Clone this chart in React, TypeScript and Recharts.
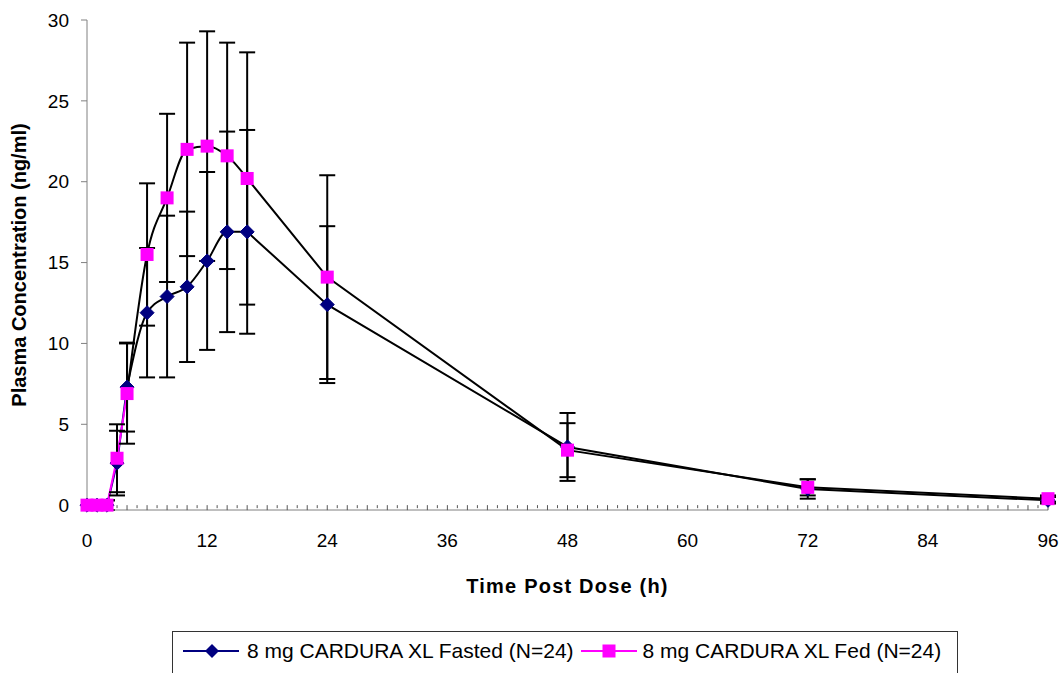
import React from 'react';
import { ComposedChart, Line, XAxis, YAxis, ErrorBar, Label } from 'recharts';

// sampling times (h)
const times = [0, 1, 2, 3, 4, 6, 8, 10, 12, 14, 16, 24, 48, 72, 96];

// mean plasma concentration (ng/ml)
const fastedMean = [0, 0, 0, 2.6, 7.3, 11.9, 12.9, 13.5, 15.1, 16.9, 16.9, 12.4, 3.6, 1.0, 0.3];
const fedMean = [0, 0, 0, 2.9, 6.9, 15.5, 19.0, 22.0, 22.2, 21.6, 20.2, 14.1, 3.4, 1.1, 0.4];

// standard deviation
const fastedSd = [0, 0, 0.3, 2.0, 2.75, 4.0, 5.0, 4.65, 5.5, 6.2, 6.3, 4.85, 2.1, 0.6, 0.2];
const fedSd = [0, 0, 0.3, 2.1, 3.1, 4.4, 5.2, 6.6, 7.1, 7.0, 7.8, 6.3, 1.67, 0.5, 0.2];

const yTicks = [0, 5, 10, 15, 20, 25, 30];
const xLabelTicks = [0, 12, 24, 36, 48, 60, 72, 84, 96];
const xMinorTicks = Array.from({ length: 97 }, (_, i) => i);

const FASTED_LABEL = '8 mg CARDURA XL Fasted (N=24)';
const FED_LABEL = '8 mg CARDURA XL Fed (N=24)';

const NAVY = '#000080';
const MAGENTA = '#FF00FF';
const FONT = '"Liberation Sans", Arial, sans-serif';

// smooth part of the curve up to 16 h, straight segments after
const data = times.map((t, i) => ({
  t,
  fasted: fastedMean[i],
  fed: fedMean[i],
  fastedSd: fastedSd[i],
  fedSd: fedSd[i],
  fastedEarly: t <= 4 ? fastedMean[i] : undefined,
  fedEarly: t <= 4 ? fedMean[i] : undefined,
  fastedPeak: t >= 4 && t <= 16 ? fastedMean[i] : undefined,
  fedPeak: t >= 4 && t <= 16 ? fedMean[i] : undefined,
  fastedTail: t >= 16 ? fastedMean[i] : undefined,
  fedTail: t >= 16 ? fedMean[i] : undefined,
}));

// hourly minor tick positions, sitting on y = 0
const tickData = xMinorTicks.map((h) => ({ t: h, base: 0 }));

const Diamond = (props: any) => {
  const { cx, cy } = props;
  if (cx == null || cy == null) return null;
  const r = 7;
  return (
    <path
      d={`M${cx},${cy - r}L${cx + r},${cy}L${cx},${cy + r}L${cx - r},${cy}Z`}
      fill={NAVY}
      stroke={NAVY}
      strokeWidth={1}
    />
  );
};

const Square = (props: any) => {
  const { cx, cy } = props;
  if (cx == null || cy == null) return null;
  const r = 6.5;
  return <rect x={cx - r} y={cy - r} width={r * 2} height={r * 2} fill={MAGENTA} />;
};

const MinorTick = (props: any) => {
  const { cx, cy, payload } = props;
  if (cx == null || cy == null) return null;
  const len = payload.t % 2 === 0 ? 5 : 3;
  return <line x1={cx} y1={cy} x2={cx} y2={cy + len} stroke="#555" strokeWidth={1} />;
};

export default function App() {
  return (
    <div style={{ position: 'absolute', left: 0, top: 0, width: 1063, height: 673, background: '#fff' }}>
      <ComposedChart
        width={1063}
        height={673}
        data={data}
        margin={{ top: 20, right: 15, left: 27, bottom: 73 }}
      >
        <XAxis
          dataKey="t"
          type="number"
          domain={[0, 96]}
          ticks={xLabelTicks}
          interval={0}
          tick={{ fill: '#000', fontSize: 19, fontFamily: FONT }}
          tickLine={false}
          tickSize={0}
          tickMargin={24}
          axisLine={{ stroke: '#808080' }}
          height={90}
        >
          <Label
            content={(p: any) => {
              const vb = p.viewBox;
              return (
                <text
                  x={vb.x + vb.width / 2}
                  y={vb.y + 83}
                  textAnchor="middle"
                  fontSize={20}
                  fontWeight="bold"
                  fontFamily={FONT}
                  letterSpacing={1.2}
                  fill="#000"
                >
                  Time Post Dose (h)
                </text>
              );
            }}
          />
        </XAxis>
        <YAxis
          type="number"
          domain={[0, 30]}
          ticks={yTicks}
          interval={0}
          width={60}
          tickSize={6}
          tickMargin={12}
          tickLine={{ stroke: '#808080' }}
          axisLine={{ stroke: '#808080' }}
          tick={{ fill: '#000', fontSize: 19, fontFamily: FONT }}
        >
          <Label
            content={(p: any) => {
              const vb = p.viewBox;
              const cy = vb.y + vb.height / 2;
              return (
                <text
                  x={19}
                  y={cy}
                  transform={`rotate(-90, 19, ${cy})`}
                  textAnchor="middle"
                  dominantBaseline="central"
                  fontSize={20}
                  fontWeight="bold"
                  fontFamily={FONT}
                  fill="#000"
                >
                  Plasma Concentration (ng/ml)
                </text>
              );
            }}
          />
        </YAxis>

        <Line
          data={tickData}
          dataKey="base"
          stroke="none"
          dot={<MinorTick />}
          activeDot={false}
          legendType="none"
          isAnimationActive={false}
        />

        <Line dataKey="fastedEarly" stroke={NAVY} strokeWidth={2} dot={false} activeDot={false} isAnimationActive={false} />
        <Line dataKey="fedEarly" stroke={MAGENTA} strokeWidth={2} dot={false} activeDot={false} isAnimationActive={false} />

        <Line dataKey="fasted" stroke="none" dot={<Diamond />} activeDot={false} isAnimationActive={false}>
          <ErrorBar dataKey="fastedSd" direction="y" width={8} stroke="#000" strokeWidth={2} isAnimationActive={false} />
        </Line>
        <Line dataKey="fed" stroke="none" dot={<Square />} activeDot={false} isAnimationActive={false}>
          <ErrorBar dataKey="fedSd" direction="y" width={8} stroke="#000" strokeWidth={2} isAnimationActive={false} />
        </Line>

        <Line type="monotone" dataKey="fastedPeak" stroke="#000" strokeWidth={2} dot={false} activeDot={false} isAnimationActive={false} />
        <Line type="monotone" dataKey="fedPeak" stroke="#000" strokeWidth={2} dot={false} activeDot={false} isAnimationActive={false} />
        <Line type="linear" dataKey="fastedTail" stroke="#000" strokeWidth={2} dot={false} activeDot={false} isAnimationActive={false} />
        <Line type="linear" dataKey="fedTail" stroke="#000" strokeWidth={2} dot={false} activeDot={false} isAnimationActive={false} />
      </ComposedChart>

      <div
        style={{
          position: 'absolute',
          left: 172,
          top: 631,
          width: 786,
          height: 50,
          border: '1px solid #333',
          boxSizing: 'border-box',
          fontFamily: FONT,
          fontSize: 21,
          lineHeight: '24px',
          display: 'flex',
          alignItems: 'flex-start',
          paddingTop: 7,
          paddingLeft: 10,
          whiteSpace: 'nowrap',
        }}
      >
        <svg width={56} height={24} style={{ marginRight: 8 }}>
          <line x1={0} y1={12} x2={56} y2={12} stroke={NAVY} strokeWidth={2} />
          <path d="M29,5L36,12L29,19L22,12Z" fill={NAVY} />
        </svg>
        <span style={{ marginRight: 7 }}>{FASTED_LABEL}</span>
        <svg width={56} height={24} style={{ marginRight: 6 }}>
          <line x1={0} y1={12} x2={56} y2={12} stroke={MAGENTA} strokeWidth={2} />
          <rect x={21.5} y={5.5} width={13} height={13} fill={MAGENTA} />
        </svg>
        <span>{FED_LABEL}</span>
      </div>
    </div>
  );
}
